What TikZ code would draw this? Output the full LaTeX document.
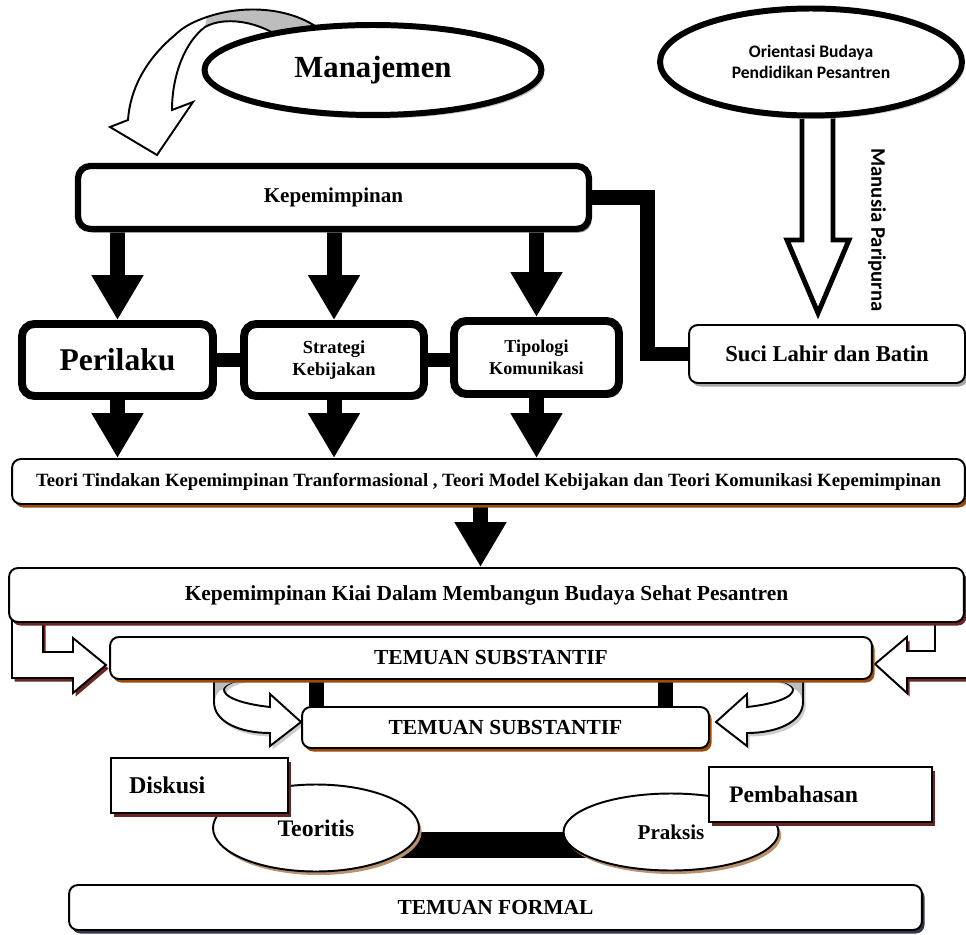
\documentclass[tikz,border=0pt]{standalone}
\usepackage{fontspec}
\setmainfont{Liberation Serif}
\newfontfamily\calibri{Carlito}
\usetikzlibrary{arrows.meta,shapes.geometric,shadows,backgrounds}
\definecolor{shbrown}{HTML}{9A4A0A}
\definecolor{shred}{HTML}{6A2424}
\definecolor{shtan}{HTML}{B9906E}
\definecolor{shnavy}{HTML}{34344E}
\definecolor{shgray}{HTML}{7F9398}
\definecolor{backside}{HTML}{BDBDBD}

\begin{document}
\begin{tikzpicture}
[x=0.02cm, y=-0.02cm,
dropped/.style={drop shadow={shadow xshift=1.5pt, shadow yshift=-2pt, fill=#1, opacity=1}},
oval/.style={ellipse, draw, fill=white, inner sep=0pt, align=center},
bigbox/.style={rectangle, draw, fill=white, rounded corners=7pt, line width=4.5pt, inner sep=0pt, align=center, dropped=shtan},
box/.style={rectangle, draw, fill=white, rounded corners=5pt, line width=1.1pt, inner sep=0pt, align=center},
flatbox/.style={rectangle, draw, fill=white, line width=1.1pt, inner sep=0pt, align=left},
bar/.style={line width=0.3cm},
blockarrow/.style={line width=0.3cm, -{Triangle[width=0.98cm, length=0.9cm]}},
hollow/.style={draw, fill=white, line width=1.1pt, line join=miter}]
\useasboundingbox (0,0) rectangle (966,935);

% arrow round the top of Manajemen
\fill[white] (318,28) .. controls (290,8) and (245,4) .. (207,17) .. controls (192,22) and (182,28) .. (175,35) .. controls (145,60) and (130,90) .. (128,120) -- (110,127) -- (157,155) -- (193,102) -- (172,110) .. controls (172,75) and (185,42) .. (205,27) .. controls (225,16) and (255,22) .. (275,34) -- cycle;
\fill[backside] (318,28) .. controls (290,8) and (245,4) .. (207,17) -- (205,27) .. controls (225,16) and (255,22) .. (275,34) -- cycle;
\draw[line width=1.1pt] (318,28) .. controls (290,8) and (245,4) .. (207,17) .. controls (192,22) and (182,28) .. (175,35) .. controls (145,60) and (130,90) .. (128,120) -- (110,127) -- (157,155) -- (193,102) -- (172,110) .. controls (172,75) and (185,42) .. (205,27) .. controls (225,16) and (255,22) .. (275,34);
\node[oval, line width=3.4pt, minimum width=6.74cm, minimum height=1.8cm, font=\fontsize{17.5}{20}\selectfont\bfseries, dropped=gray!50] (man) at (373,70) {Manajemen};

% Orientasi
\draw[hollow, line width=2.8pt] (802,100) -- (802,240) -- (787,240) -- (818,313) -- (849,240) -- (833,240) -- (833,100) -- cycle;
\node[oval, line width=3.4pt, minimum width=6.04cm, minimum height=2.14cm, font=\calibri\fontsize{10}{12}\selectfont\bfseries, dropped=gray!40] (ori) at (811,62) {Orientasi Budaya\\Pendidikan Pesantren};
\node[rotate=-90, font=\calibri\fontsize{11.8}{13}\selectfont\bfseries] (manusia) at (877,230) {Manusia Paripurna};

\node[box, line width=3.6pt, rounded corners=7pt, minimum width=10.22cm, minimum height=1.26cm, font=\fontsize{12}{14}\selectfont\bfseries, dropped=shgray] (kep) at (333.5,197.5) {Kepemimpinan};
\node[bigbox, minimum width=3.82cm, minimum height=1.44cm, font=\fontsize{18}{20}\selectfont\bfseries] (per) at (117.5,360) {Perilaku};
\node[bigbox, minimum width=3.6cm, minimum height=1.44cm, font=\fontsize{10.5}{12.5}\selectfont\bfseries] (str) at (334,360) {Strategi\\Kebijakan};
\node[bigbox, minimum width=3.3cm, minimum height=1.46cm, font=\fontsize{10.3}{12.5}\selectfont\bfseries] (tip) at (536.5,357.5) {Tipologi\\Komunikasi};
\node[box, minimum width=5.52cm, minimum height=1.16cm, font=\fontsize{12.9}{15}\selectfont\bfseries, dropped=gray!70] (suci) at (827,354) {Suci Lahir dan Batin};

\node[box, minimum width=19.06cm, minimum height=0.9cm, font=\fontsize{10.65}{12}\selectfont\bfseries, dropped=shbrown] (teori) at (488.5,481.5) {Teori Tindakan Kepemimpinan Tranformasional , Teori Model Kebijakan dan Teori Komunikasi Kepemimpinan};
\node[box, minimum width=19.1cm, minimum height=1.08cm, font=\fontsize{12.2}{14}\selectfont\bfseries, dropped=shred] (kiai) at (486.5,595) {Kepemimpinan Kiai Dalam Membangun Budaya Sehat Pesantren};
\node[box, minimum width=15.24cm, minimum height=0.84cm, font=\fontsize{12.2}{14}\selectfont\bfseries, dropped=shbrown] (tsub) at (491,658) {TEMUAN SUBSTANTIF};
\node[box, minimum width=8.14cm, minimum height=0.82cm, font=\fontsize{12.2}{14}\selectfont\bfseries, dropped=shbrown] (tsubb) at (505.5,727.5) {TEMUAN SUBSTANTIF};

\node[oval, line width=1.1pt, minimum width=4.12cm, minimum height=1.74cm, font=\fontsize{13.5}{15}\selectfont\bfseries, dropped=shtan] (teor) at (316,828) {Teoritis};
\node[oval, line width=1.1pt, minimum width=4.3cm, minimum height=1.54cm, font=\fontsize{12}{14}\selectfont\bfseries, dropped=shtan] (prak) at (671,832) {Praksis};
\node[flatbox, text width=2.82cm, inner xsep=0.36cm, minimum height=1.1cm, font=\fontsize{13.7}{15}\selectfont\bfseries, dropped=shred] (disk) at (199.5,785.5) {Diskusi};
\node[flatbox, text width=3.66cm, inner xsep=0.4cm, minimum height=1.1cm, font=\fontsize{13.5}{15}\selectfont\bfseries, dropped=shred] (bahas) at (820.5,794.5) {Pembahasan};
\node[box, minimum width=17.06cm, minimum height=0.9cm, font=\fontsize{12.2}{14}\selectfont\bfseries, dropped=shnavy] (formal) at (495.5,907.5) {TEMUAN FORMAL};

\begin{scope}[on background layer]
  \draw[bar] (kep.east) -- ++(55,0) |- (suci.west);
  \draw[bar] (per.east) -- (str.west);
  \draw[bar] (str.east) -- (str.east -| tip.west);
  \draw[blockarrow] (kep.south -| per.north) -- (per.north);
  \draw[blockarrow] (kep.south -| str.north) -- (str.north);
  \draw[blockarrow] (kep.south -| tip.north) -- (tip.north);
  \draw[blockarrow] (per.south) -- (per.south |- teori.north);
  \draw[blockarrow] (str.south) -- (str.south |- teori.north);
  \draw[blockarrow] (tip.south) -- (tip.south |- teori.north);
  \draw[blockarrow] ([xshift=-0.16cm]teori.south) -- ([xshift=-0.16cm]teori.south |- kiai.north);
  % hollow arrows into TEMUAN SUBSTANTIF
  \draw[hollow, dropped=shred] (12,615) -- (12,678) -- (73,678) -- (73,693) -- (106,665) -- (73,638) -- (73,652) -- (43,652) -- (43,615) -- cycle;
  \draw[hollow, dropped=shred] (972,615) -- (972,678) -- (907,678) -- (907,693) -- (875,664) -- (907,637) -- (907,651) -- (935,651) -- (935,615) -- cycle;
  \draw[bar] (tsub.south -| teor.north) -- (tsubb.north -| teor.north);
  \draw[bar] ([xshift=-0.12cm]tsub.south -| prak.north) -- ([xshift=-0.12cm]tsubb.north -| prak.north);
  \draw[hollow, dropped=gray!40] (214,672) -- (214,702) .. controls (214,722) and (240,733) .. (270,733) -- (270,746) -- (301,722) -- (270,694) -- (270,707) .. controls (242,704) and (223,697) .. (224,689) .. controls (225,682) and (245,679) .. (262,672) -- cycle;
  \fill[backside] (215,679) -- (215,700) .. controls (216,694) and (218,691) .. (223,689) .. controls (225,684) and (235,681) .. (250,679) -- cycle;
  \draw[hollow, dropped=gray!40] (803,672) -- (803,702) .. controls (803,722) and (777,733) .. (747,733) -- (747,746) -- (716,722) -- (747,694) -- (747,707) .. controls (775,704) and (794,697) .. (793,689) .. controls (792,682) and (772,679) .. (755,672) -- cycle;
  \fill[backside] (802,679) -- (802,700) .. controls (801,694) and (799,691) .. (794,689) .. controls (792,684) and (782,681) .. (767,679) -- cycle;
  \draw[line width=0.52cm] ([yshift=-0.34cm]teor.center) -- ([yshift=-0.34cm]teor.center -| prak.center);
\end{scope}
\end{tikzpicture}
\end{document}
